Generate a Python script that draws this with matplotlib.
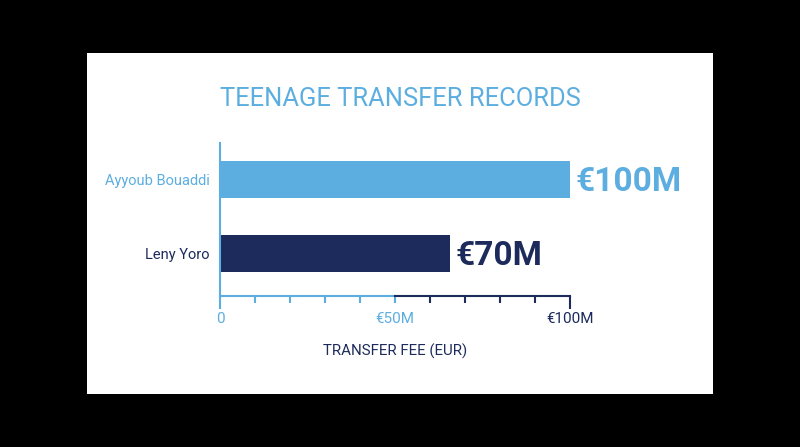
import matplotlib.pyplot as plt
import matplotlib.patches as patches
import matplotlib.transforms as mtransforms

players = ["Leny Yoro", "Ayyoub Bouaddi"]
fees = [65.7, 100]          # bar lengths as drawn (million EUR)
fee_labels = ["€70M", "€100M"]
tick_values = [0, 10, 20, 30, 40, 50, 60, 70, 80, 90, 100]
tick_labels = ["0", "", "", "", "", "€50M", "", "", "", "", "€100M"]

light = "#5DAEE0"
navy = "#1C2A5C"
bar_colors = [navy, light]

plt.rcParams['font.family'] = ['Roboto', 'DejaVu Sans']

fig = plt.figure(figsize=(8, 4.47), dpi=100, facecolor="black")
panel = patches.Rectangle((87 / 800, 1 - 394 / 447), 626 / 800, 341 / 447,
                          transform=fig.transFigure, facecolor="white",
                          edgecolor="none", zorder=-5)
fig.patches.append(panel)

ax = fig.add_axes([220 / 800, 1 - 296 / 447, 350 / 800, 153 / 447])
ax.set_facecolor("none")
ax.set_zorder(2)

ax.barh(range(len(players)), fees, height=0.5, color=bar_colors, zorder=2)
ax.set_xlim(0, 100)
ax.set_ylim(-0.574, 1.493)

for i, (v, lab) in enumerate(zip(fees, fee_labels)):
    ax.annotate(lab, (v, i), xytext=(4, -1.5), textcoords="offset points",
                va="center", ha="left", fontsize=24, fontweight="bold",
                color=bar_colors[i])

ax.set_yticks(range(len(players)))
ax.set_yticklabels(players, fontsize=10.5)
for lbl, c in zip(ax.get_yticklabels(), bar_colors):
    lbl.set_color(c)
ax.tick_params(axis="y", length=0, pad=7.5)

for s in ["top", "right", "bottom"]:
    ax.spines[s].set_visible(False)
ax.spines["left"].set_color(light)
ax.spines["left"].set_linewidth(1.5)

# two-tone x axis line
trans = mtransforms.blended_transform_factory(ax.transData, ax.transAxes)
ax.plot([0, 50], [0, 0], color=light, lw=1.5, transform=trans, clip_on=False, zorder=3)
ax.plot([50, 100], [0, 0], color=navy, lw=1.5, transform=trans, clip_on=False, zorder=3)

ax.set_xticks(tick_values)
ax.set_xticklabels(tick_labels, fontsize=11)
ax.tick_params(axis="x", pad=8, width=1.5)
for t, v in zip(ax.xaxis.get_major_ticks(), tick_values):
    c = light if v <= 50 else navy
    t.tick1line.set_markeredgecolor(c)
    t.tick1line.set_markersize(9 if v in (0, 100) else 5)
    t.label1.set_color(c)

ax.set_xlabel("TRANSFER FEE (EUR)", fontsize=10.8, color=navy, labelpad=13)

fig.text(0.5, 1 - 98.5 / 447, "TEENAGE TRANSFER RECORDS", ha="center", va="center",
         fontsize=18.4, color=light)

fig.savefig("out.png", dpi=100, facecolor=fig.get_facecolor())
